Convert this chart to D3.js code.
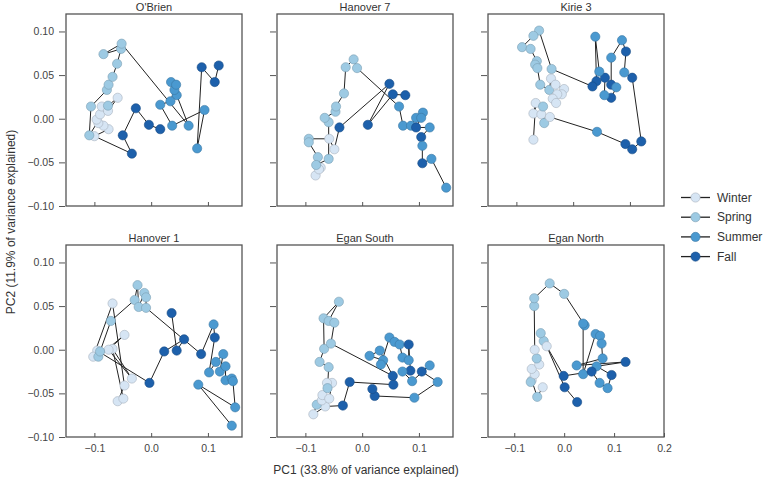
<!DOCTYPE html>
<html>
<head>
<meta charset="utf-8">
<script src="https://cdn.jsdelivr.net/npm/d3@7"></script>
<style>
  body { margin: 0; background: #fff; }
  svg { font-family: "Liberation Sans", Arial, sans-serif; }
</style>
</head>
<body>
<svg id="chart" width="771" height="480"></svg>
<script>
// season codes: W = Winter, Sp = Spring, Su = Summer, F = Fall
const seasons = ["Winter", "Spring", "Summer", "Fall"];
const seasonCodes = ["W", "Sp", "Su", "F"];
const siteNames = ["O'Brien", "Hanover 7", "Kirie 3", "Hanover 1", "Egan South", "Egan North"];
const xTicks = [-0.1, 0.0, 0.1];
const xTicksWide = [-0.1, 0.0, 0.1, 0.2];
const yTicks = [-0.10, -0.05, 0.00, 0.05, 0.10];

// [PC1, PC2, season] in sampling order
const obrien = [
  [0.016, -0.012, "F"], [-0.004, -0.007, "F"], [-0.027, 0.012, "F"], [-0.050, -0.019, "F"], [-0.034, -0.040, "F"],
  [-0.100, -0.020, "W"], [-0.075, -0.012, "W"], [-0.084, -0.008, "W"], [-0.093, -0.005, "W"], [-0.096, -0.001, "W"],
  [-0.090, 0.005, "W"], [-0.087, 0.014, "W"], [-0.076, 0.009, "W"], [-0.059, 0.024, "W"],
  [-0.076, 0.015, "Sp"], [-0.109, -0.019, "Sp"], [-0.106, 0.014, "Sp"], [-0.078, 0.033, "Sp"], [-0.075, 0.039, "Sp"],
  [-0.068, 0.048, "Sp"], [-0.060, 0.063, "Sp"], [-0.053, 0.080, "Sp"], [-0.084, 0.074, "Sp"], [-0.052, 0.086, "Sp"],
  [0.066, -0.008, "Su"], [0.045, 0.027, "Su"], [0.041, 0.033, "Su"], [0.035, 0.042, "Su"], [0.044, 0.039, "Su"],
  [0.034, 0.020, "Su"], [0.016, 0.016, "Su"], [0.037, -0.008, "Su"], [0.094, 0.010, "Su"], [0.081, -0.034, "Su"],
  [0.089, 0.059, "F"], [0.112, 0.042, "F"], [0.119, 0.061, "F"]
];

const hanover7 = [
  [0.076, 0.027, "F"], [0.054, 0.028, "F"], [0.010, -0.007, "F"], [0.048, 0.040, "F"], [-0.040, -0.010, "F"],
  [-0.049, -0.035, "W"], [-0.058, -0.023, "W"], [-0.094, -0.023, "Sp"], [-0.094, -0.027, "Sp"], [-0.078, -0.044, "Sp"],
  [-0.073, -0.056, "W"], [-0.082, -0.065, "W"], [-0.076, -0.058, "W"], [-0.081, -0.053, "Sp"], [-0.059, -0.046, "Sp"],
  [-0.059, -0.004, "Sp"], [-0.066, 0.001, "Sp"], [-0.047, 0.008, "Sp"], [-0.046, 0.014, "Sp"], [-0.032, 0.029, "Sp"],
  [-0.029, 0.059, "Sp"], [-0.015, 0.068, "Sp"], [-0.009, 0.058, "Sp"],
  [0.065, 0.014, "Su"], [0.072, -0.008, "Su"], [0.086, -0.008, "Su"], [0.095, 0.001, "Su"], [0.107, 0.007, "Su"],
  [0.104, 0.001, "Su"], [0.095, -0.010, "F"], [0.119, -0.010, "Su"], [0.104, -0.021, "F"], [0.106, -0.031, "Su"],
  [0.106, -0.051, "F"], [0.122, -0.046, "Su"], [0.148, -0.079, "Su"]
];

const kirie3 = [
  [-0.070, -0.024, "W"], [-0.066, 0.018, "W"], [-0.070, 0.006, "W"], [-0.056, 0.005, "W"], [-0.053, 0.014, "Sp"],
  [-0.051, -0.005, "Sp"], [-0.041, 0.002, "W"], [0.042, -0.015, "Su"], [0.092, -0.029, "F"], [0.104, -0.035, "F"],
  [0.120, -0.026, "F"], [0.104, 0.047, "F"], [0.090, 0.053, "Su"], [0.093, 0.077, "F"], [0.086, 0.090, "Su"],
  [0.067, 0.070, "Su"], [0.067, 0.039, "F"], [0.076, 0.036, "Su"], [0.067, 0.024, "F"], [0.055, 0.027, "Su"],
  [0.056, 0.047, "F"], [0.046, 0.054, "Su"], [0.039, 0.094, "Su"], [0.041, 0.043, "F"], [0.034, 0.037, "F"],
  [-0.038, 0.057, "Sp"], [-0.060, 0.101, "Sp"], [-0.070, 0.095, "Sp"], [-0.090, 0.082, "Sp"], [-0.075, 0.080, "Sp"],
  [-0.064, 0.066, "Sp"], [-0.067, 0.062, "Sp"], [-0.063, 0.058, "Sp"], [-0.058, 0.039, "Sp"], [-0.042, 0.033, "Sp"],
  [-0.039, 0.046, "W"], [-0.031, 0.039, "W"], [-0.016, 0.034, "W"], [-0.020, 0.028, "W"], [-0.028, 0.028, "W"],
  [-0.036, 0.023, "W"], [-0.030, 0.018, "W"]
];

const hanover1 = [
  [0.036, 0.042, "F"], [0.045, -0.001, "F"], [0.058, 0.012, "F"], [0.023, -0.002, "F"], [-0.003, -0.038, "F"],
  [-0.095, -0.001, "W"], [-0.102, -0.008, "W"], [-0.068, 0.053, "W"], [-0.047, -0.041, "W"], [-0.059, -0.059, "W"],
  [-0.049, -0.056, "W"], [-0.068, 0.001, "W"], [-0.034, -0.033, "W"], [-0.075, 0.000, "W"], [-0.047, 0.017, "W"],
  [-0.093, -0.008, "Sp"], [-0.090, -0.002, "Sp"], [-0.071, 0.033, "Sp"], [-0.029, 0.057, "Sp"], [-0.024, 0.074, "Sp"],
  [-0.022, 0.049, "Sp"], [-0.012, 0.065, "Sp"], [-0.009, 0.060, "Sp"], [-0.009, 0.048, "Sp"],
  [0.088, -0.005, "F"], [0.110, 0.029, "Su"], [0.112, 0.014, "F"], [0.102, -0.026, "Su"], [0.114, -0.014, "Su"],
  [0.127, -0.005, "Su"], [0.121, -0.025, "Su"], [0.131, -0.019, "Su"], [0.131, -0.035, "Su"], [0.142, -0.033, "Su"],
  [0.144, -0.036, "Su"], [0.148, -0.066, "Su"], [0.083, -0.040, "Su"], [0.142, -0.087, "Su"]
];

const eganSouth = [
  [0.055, -0.040, "F"], [-0.022, -0.037, "F"], [-0.034, -0.064, "F"],
  [-0.065, -0.065, "W"], [-0.086, -0.074, "W"], [-0.080, -0.063, "Sp"], [-0.071, -0.058, "W"], [-0.070, -0.052, "W"],
  [-0.058, -0.056, "W"], [-0.053, -0.038, "W"], [-0.062, -0.038, "W"], [-0.061, -0.044, "Sp"], [-0.059, -0.020, "Sp"],
  [-0.075, -0.014, "Sp"], [-0.067, 0.001, "Sp"], [-0.068, 0.036, "Sp"], [-0.041, 0.055, "Sp"], [-0.059, 0.033, "Sp"],
  [-0.049, 0.031, "Sp"], [-0.055, 0.007, "Sp"],
  [0.054, -0.030, "F"], [0.031, -0.001, "Su"], [0.013, -0.007, "Su"], [0.037, -0.012, "Su"], [0.033, -0.017, "Su"],
  [0.048, 0.014, "Su"], [0.057, 0.009, "Su"], [0.066, 0.006, "Su"], [0.071, -0.009, "Su"], [0.082, -0.012, "Su"],
  [0.082, 0.006, "F"], [0.085, -0.024, "F"], [0.071, -0.025, "Su"], [0.088, -0.036, "Su"], [0.119, -0.018, "Su"],
  [0.105, -0.025, "F"], [0.133, -0.037, "Su"], [0.092, -0.055, "Su"], [0.022, -0.053, "F"], [0.018, -0.045, "F"]
];

const eganNorth = [
  [-0.043, -0.043, "W"], [-0.054, -0.054, "Sp"], [-0.065, -0.035, "W"], [-0.067, -0.037, "Sp"], [-0.059, -0.028, "W"],
  [-0.065, -0.022, "W"], [-0.050, -0.017, "W"], [-0.055, -0.010, "Sp"], [-0.059, 0.000, "W"], [-0.060, 0.050, "Sp"],
  [-0.060, 0.059, "Sp"], [-0.029, 0.076, "Sp"], [0.000, 0.064, "Sp"],
  [0.041, 0.028, "Su"], [0.038, 0.030, "Su"], [0.038, -0.028, "Su"], [0.063, 0.018, "Su"], [0.072, 0.016, "Su"],
  [0.075, 0.007, "Su"], [0.077, -0.010, "Su"], [0.025, -0.018, "Su"], [0.123, -0.014, "F"], [0.065, -0.019, "Su"],
  [0.095, -0.029, "F"], [0.087, -0.044, "Su"], [0.071, -0.038, "Su"], [0.055, -0.025, "F"], [-0.001, -0.030, "F"],
  [-0.041, 0.010, "Sp"], [-0.047, 0.019, "Sp"], [-0.035, 0.004, "W"], [0.001, -0.043, "F"], [0.026, -0.060, "F"]
];

const siteData = [obrien, hanover7, kirie3, hanover1, eganSouth, eganNorth];

const color = d3.scaleOrdinal()
  .domain(seasonCodes)
  .range(["#d6e5f4", "#9dcae3", "#4a99d0", "#1d60ab"]);

const svg = d3.select("#chart");

const colLeft = [66, 277, 488];
const rowTop = [14, 245];
const panelW = 176;
const panelH = 192;

const line = d3.line();

siteData.forEach((pts, i) => {
  const col = i % 3;
  const row = Math.floor(i / 3);
  const x0 = colLeft[col];
  const y0 = rowTop[row];
  const wide = i === 5;

  const x = d3.scaleLinear()
    .domain(wide ? [-0.1526, 0.2] : [-0.15, 0.16])
    .range([x0, x0 + panelW]);
  const y = d3.scaleLinear()
    .domain([-0.1, 0.12])
    .range([y0 + panelH, y0]);

  const g = svg.append("g").attr("class", "panel");

  // x axis: ticks point inward
  const xa = g.append("g")
    .attr("transform", `translate(0,${y0 + panelH})`)
    .call(d3.axisBottom(x)
      .tickValues(wide ? xTicksWide : xTicks)
      .tickSizeInner(-4)
      .tickSizeOuter(0)
      .tickPadding(8)
      .tickFormat(row === 1 ? d3.format(".1f") : ""));
  xa.select(".domain").remove();
  xa.selectAll("line").attr("stroke", "#555");
  xa.selectAll("text").attr("fill", "#444").style("font-size", "10.5px");

  // y axis: ticks point outward
  const ya = g.append("g")
    .attr("transform", `translate(${x0 - 1},0)`)
    .call(d3.axisLeft(y)
      .tickValues(yTicks)
      .tickSizeInner(6)
      .tickSizeOuter(0)
      .tickPadding(5)
      .tickFormat(col === 0 ? d3.format(".2f") : ""));
  ya.select(".domain").remove();
  ya.selectAll("line").attr("stroke", "#555");
  ya.selectAll("text").attr("fill", "#444").style("font-size", "10.5px");

  g.append("rect")
    .attr("x", x0)
    .attr("y", y0)
    .attr("width", panelW)
    .attr("height", panelH)
    .attr("fill", "none")
    .attr("stroke", "#555")
    .attr("stroke-width", 1.3);

  g.append("text")
    .attr("x", x0 + panelW / 2)
    .attr("y", y0 - 3)
    .attr("text-anchor", "middle")
    .attr("fill", "#333")
    .style("font-size", "11px")
    .text(siteNames[i]);

  g.append("path")
    .datum(pts)
    .attr("fill", "none")
    .attr("stroke", "#222")
    .attr("stroke-width", 1)
    .attr("d", line.x((d) => x(d[0])).y((d) => y(d[1])));

  g.selectAll("circle")
    .data(pts)
    .enter()
    .append("circle")
    .attr("cx", (d) => x(d[0]))
    .attr("cy", (d) => y(d[1]))
    .attr("r", 4.6)
    .attr("fill", (d) => color(d[2]))
    .attr("stroke", (d) => d3.color(color(d[2])).darker(0.7))
    .attr("stroke-width", 0.6);
});

// axis titles
svg.append("text")
  .attr("x", 366)
  .attr("y", 474)
  .attr("text-anchor", "middle")
  .attr("fill", "#333")
  .style("font-size", "12px")
  .text("PC1 (33.8% of variance explained)");

svg.append("text")
  .attr("transform", "translate(15,222) rotate(-90)")
  .attr("text-anchor", "middle")
  .attr("fill", "#333")
  .style("font-size", "12px")
  .text("PC2 (11.9% of variance explained)");

// legend
const legend = svg.append("g")
  .selectAll(".legend")
  .data(seasonCodes)
  .enter()
  .append("g")
  .attr("class", "legend")
  .attr("transform", (d, i) => `translate(681,${197.5 + i * 19.7})`);

legend.append("line")
  .attr("x1", 0)
  .attr("x2", 29)
  .attr("stroke", "#222")
  .attr("stroke-width", 1.3);

legend.append("circle")
  .attr("cx", 14.5)
  .attr("r", 4.6)
  .attr("fill", (d) => color(d))
  .attr("stroke", (d) => d3.color(color(d)).darker(0.7))
  .attr("stroke-width", 0.6);

legend.append("text")
  .attr("x", 36)
  .attr("dy", "0.35em")
  .attr("fill", "#333")
  .style("font-size", "12px")
  .text((d, i) => seasons[i]);
</script>
</body>
</html>
